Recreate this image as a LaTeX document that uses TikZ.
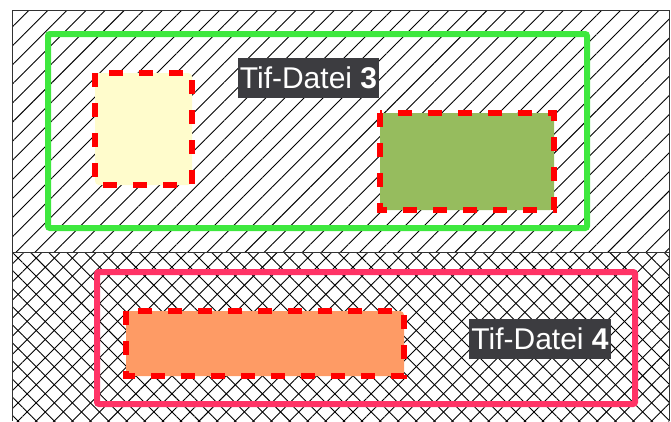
\documentclass[tikz,border=0pt]{standalone}
\usepackage{fontspec}
\setmainfont{Liberation Sans}
\usetikzlibrary{patterns.meta}
\definecolor{gline}{HTML}{3EE83E}
\definecolor{pline}{HTML}{FF3366}
\definecolor{yfill}{HTML}{FFFCCC}
\definecolor{ofill}{HTML}{96BC5E}
\definecolor{rfill}{HTML}{FE9B65}
\definecolor{lblbg}{HTML}{3C3C40}
\definecolor{edge}{HTML}{333333}
\tikzset{
  region/.style={draw=edge,line width=0.9pt},
  frame/.style={line width=6pt,rounded corners=2pt},
  dashbox/.style={draw=red,line width=6pt,dash pattern=on 14pt off 16pt},
  boxfill/.style={rounded corners=4pt},
  lbl/.style={fill=lblbg,text=white,font=\fontsize{30}{30}\selectfont,inner xsep=2pt,inner ysep=0pt,text height=30pt,text depth=10pt}
}
\begin{document}
\begin{tikzpicture}[x=1pt,y=-1pt]
\useasboundingbox (0,0) rectangle (671,421);
% regions
\fill[pattern={Lines[angle=45,distance=13.5pt,line width=0.9pt]}] (12,10) rectangle (669,252);
\fill[pattern={Lines[angle=45,distance=12.8pt,line width=0.9pt]}] (12,252) rectangle (669,421);
\fill[pattern={Lines[angle=-45,distance=12.8pt,line width=0.9pt]}] (12,252) rectangle (669,421);
\draw[region] (12,421) -- (12,10) -- (669,10) -- (669,421);
\draw[region] (12,252) -- (669,252);
% frames
\draw[frame,draw=gline] (48,34) rectangle (587,228);
\draw[frame,draw=pline] (97,272) rectangle (635,404);
% small boxes
\fill[boxfill,yfill] (95,73) rectangle (192,185);
\draw[dashbox] (95,73) rectangle (192,185);
\fill[boxfill,ofill] (380,113) rectangle (554,210);
\draw[dashbox] (380,113) rectangle (554,210);
\fill[boxfill,rfill] (126,311) rectangle (404,376);
\draw[dashbox] (126,311) rectangle (404,376);
% labels
\node[lbl] (l3) at (308.5,78) {Tif-Datei \textbf{3}};
\node[lbl] (l4) at (540,339) {Tif-Datei \textbf{4}};
\end{tikzpicture}
\end{document}
